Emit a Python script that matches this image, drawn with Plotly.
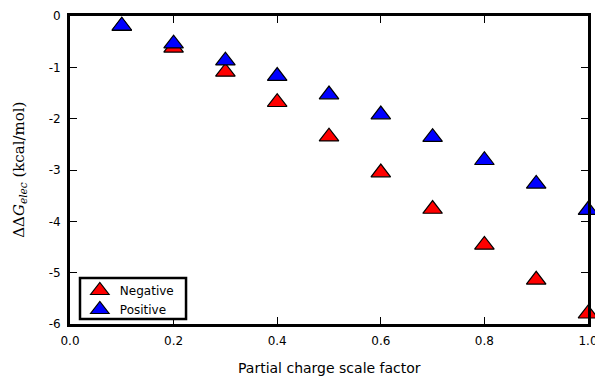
import plotly.graph_objects as go

scale = [0.1, 0.2, 0.3, 0.4, 0.5, 0.6, 0.7, 0.8, 0.9, 1.0]
negative = [-0.2, -0.62, -1.09, -1.68, -2.35, -3.05, -3.76, -4.46, -5.14, -5.80]
positive = [-0.19, -0.54, -0.87, -1.17, -1.53, -1.92, -2.36, -2.81, -3.27, -3.78]

y_ticks = [0, -1, -2, -3, -4, -5, -6]
y_labels = ["0", "-1", "-2", "-3", "-4", "-5", "-6"]
x_ticks = [0.0, 0.2, 0.4, 0.6, 0.8, 1.0]
x_labels = ["0.0", "0.2", "0.4", "0.6", "0.8", "1.0"]

fig = go.Figure()
fig.add_trace(go.Scatter(x=scale, y=negative, mode="markers", name="Negative",
                         marker=dict(symbol="triangle-up", size=17, color="#ff0000",
                                     line=dict(color="black", width=1.2)),
                         cliponaxis=False))
fig.add_trace(go.Scatter(x=scale, y=positive, mode="markers", name="Positive",
                         marker=dict(symbol="triangle-up", size=17, color="#0000ff",
                                     line=dict(color="black", width=1.2)),
                         cliponaxis=False))

axis_common = dict(showline=True, linewidth=3, linecolor="black", mirror="allticks",
                   ticks="inside", ticklen=7, tickwidth=1, tickcolor="black",
                   showgrid=False, zeroline=False, automargin=False,
                   ticklabeloverflow="allow",
                   tickfont=dict(family="DejaVu Sans", size=12, color="black"))

fig.update_xaxes(range=[0, 1.0], tickvals=x_ticks, ticktext=x_labels, ticklabelstandoff=4,
                 **axis_common)
fig.update_yaxes(range=[-6, 0], tickvals=y_ticks, ticktext=y_labels, ticklabelstandoff=4,
                 **axis_common)

fig.add_annotation(text="Partial charge scale factor", xref="paper", yref="paper",
                   x=0.5, y=-0.143, xanchor="center", yanchor="middle", showarrow=False,
                   font=dict(family="DejaVu Sans", size=14, color="black"))
fig.add_annotation(text="ΔΔ<i>G</i><sub><i>elec</i></sub> (kcal/mol)", xref="paper", yref="paper",
                   x=-0.099, y=0.5, xanchor="center", yanchor="middle", showarrow=False,
                   textangle=-90,
                   font=dict(family="DejaVu Serif", size=15, color="black"))

# legend frame
fig.add_shape(type="rect", xref="paper", yref="paper",
              x0=0.0193, x1=0.224, y0=0.016, y1=0.149,
              fillcolor="white", line=dict(color="black", width=2.5), layer="above")

fig.update_layout(
    width=595, height=378,
    margin=dict(l=70, r=7, t=16, b=54),
    plot_bgcolor="white", paper_bgcolor="white",
    showlegend=True,
    legend=dict(x=0.019, y=0.0, xanchor="left", yanchor="bottom",
                bgcolor="rgba(0,0,0,0)", borderwidth=0,
                font=dict(family="DejaVu Sans", size=12, color="black"),
                tracegroupgap=0, itemwidth=30),
)

fig.write_html("out.html", config={"displayModeBar": False},
               post_script="document.body.style.margin='0';document.body.style.overflow='hidden';")
